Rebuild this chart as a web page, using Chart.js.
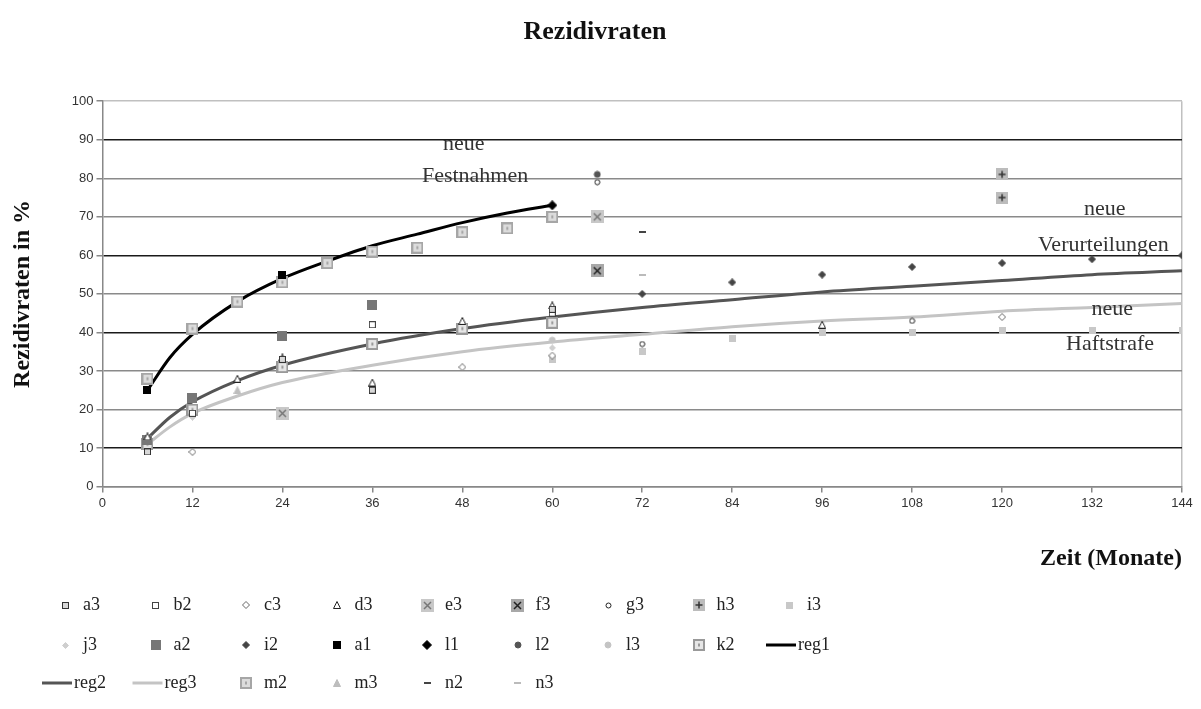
<!DOCTYPE html>
<html>
<head>
<meta charset="utf-8">
<title>Rezidivraten</title>
<script src="https://cdn.jsdelivr.net/npm/chart.js@4.4.1/dist/chart.umd.min.js"></script>
<style>
  html, body { margin: 0; padding: 0; background: #fff; }
  #wrap { width: 1201px; height: 709px; }
</style>
</head>
<body>
<div id="wrap"><canvas id="rezidivChart" width="1201" height="709"></canvas></div>
<script>
// Stichproben: [Monate, Rezidivrate in %]
var a3 = [[6, 9], [24, 33], [36, 25], [60, 46]];
var b2 = [[12, 19], [36, 42], [60, 45]];
var c3 = [[12, 9], [48, 31], [60, 34], [120, 44]];
var d3 = [[6, 13], [18, 28], [24, 33.5], [36, 27], [48, 43], [60, 47], [96, 42]];
var e3 = [[24, 19], [66, 70]];
var f3 = [[66, 56]];
var g3 = [[66, 79], [72, 37], [108, 43]];
var h3 = [[120, 81], [120, 75]];
var i3 = [[60, 33], [72, 35], [84, 38.5], [96, 40], [108, 40], [120, 40.5], [132, 40.5], [144, 40.5]];
var j3 = [[12, 18], [60, 36]];
var a2 = [[6, 12], [12, 23], [24, 39], [36, 47]];
var i2 = [[72, 50], [84, 53], [96, 55], [108, 57], [120, 58], [132, 59], [144, 60]];
var a1 = [[6, 25], [24, 55]];
var l1 = [[60, 73]];
var l2 = [[66, 81]];
var l3 = [[60, 38]];
var k2 = [[6, 11], [12, 20], [24, 31], [36, 37], [48, 41], [60, 42.5]];
var m2 = [[6, 28], [12, 41], [18, 48], [24, 53], [30, 58], [36, 61], [42, 62], [48, 66], [54, 67], [60, 70]];
var m3 = [[18, 25]];
var n2 = [[72, 66]];
var n3 = [[72, 55]];

// Regressionskurven
var reg1Months = [6, 9, 12, 18, 24, 30, 36, 42, 48, 54, 60];
var reg1Values = [25, 33.5, 39.5, 48, 54, 58.5, 62.5, 65.5, 68.5, 71, 73];
var reg2Months = [6, 9, 12, 18, 24, 36, 48, 60, 72, 84, 96, 108, 120, 132, 144];
var reg2Values = [12.5, 18, 22, 27.5, 31.5, 37, 41, 44, 46.5, 48.5, 50.5, 52, 53.5, 55, 56];
var reg3Months = [6, 9, 12, 18, 24, 36, 48, 60, 72, 84, 96, 108, 120, 132, 144];
var reg3Values = [11, 15.5, 19, 23.5, 27, 31.5, 35, 37.5, 39.5, 41.5, 43, 44, 45.5, 46.5, 47.5];

var xTicks = [0, 12, 24, 36, 48, 60, 72, 84, 96, 108, 120, 132, 144];
var yTicks = [0, 10, 20, 30, 40, 50, 60, 70, 80, 90, 100];
var darkGridValues = [10, 40, 60, 90];

// Beschriftungen im Diagramm
var noteTexts = ['neue', 'Festnahmen', 'neue', 'Verurteilungen', 'neue', 'Haftstrafe'];
var noteMonths = [48.2, 49.7, 133.7, 133.5, 134.7, 134.4];
var noteRates = [88.8, 80.6, 72, 62.7, 46.1, 37];

function pairs(list) {
  return list.map(function (p) { return { x: p[0], y: p[1] }; });
}
function zipXY(xs, ys) {
  return xs.map(function (x, i) { return { x: x, y: ys[i] }; });
}

// kleine Marker als Canvas, damit auch Kreuz-/Plus-Kästchen gehen
function marker(kind, size, fill, stroke) {
  var c = document.createElement('canvas');
  c.width = size;
  c.height = kind === 'dash' ? 2 : size;
  var g = c.getContext('2d');
  var m = size / 2;
  g.fillStyle = fill;
  g.strokeStyle = stroke;
  g.lineWidth = 1;
  if (kind === 'square') {
    g.fillRect(0, 0, size, size);
    g.strokeRect(0.5, 0.5, size - 1, size - 1);
  } else if (kind === 'diamond') {
    g.beginPath();
    g.moveTo(m, 0.5); g.lineTo(size - 0.5, m); g.lineTo(m, size - 0.5); g.lineTo(0.5, m);
    g.closePath(); g.fill(); g.stroke();
  } else if (kind === 'triangle') {
    g.beginPath();
    g.moveTo(m, 0.5); g.lineTo(size - 0.5, size - 0.5); g.lineTo(0.5, size - 0.5);
    g.closePath(); g.fill(); g.stroke();
  } else if (kind === 'circle') {
    g.beginPath();
    g.arc(m, m, m - 1, 0, Math.PI * 2);
    g.fill(); g.stroke();
  } else if (kind === 'cross') {
    g.fillRect(0, 0, size, size);
    g.lineWidth = 1.5;
    g.beginPath();
    g.moveTo(3, 3); g.lineTo(size - 3, size - 3);
    g.moveTo(size - 3, 3); g.lineTo(3, size - 3);
    g.stroke();
  } else if (kind === 'plus') {
    g.fillRect(0, 0, size, size);
    g.lineWidth = 1.5;
    g.beginPath();
    g.moveTo(m, 2.5); g.lineTo(m, size - 2.5);
    g.moveTo(2.5, m); g.lineTo(size - 2.5, m);
    g.stroke();
  } else if (kind === 'inner') {
    g.fillRect(0, 0, size, size);
    g.fillStyle = stroke;
    g.fillRect(2, 2, size - 4, size - 4);
    g.fillStyle = fill;
    g.fillRect(m - 1, m - 1.5, 2, 3);
  } else if (kind === 'dash') {
    g.fillRect(0, 0, size, 2);
  }
  return c;
}

function pointSet(label, list, mk) {
  return {
    label: label,
    data: pairs(list),
    pointStyle: mk,
    pointRadius: 5,
    showLine: false,
    order: 0
  };
}
function regLine(label, xs, ys, color) {
  return {
    label: label,
    data: zipXY(xs, ys),
    showLine: true,
    borderColor: color,
    backgroundColor: color,
    borderWidth: 3,
    pointRadius: 0,
    cubicInterpolationMode: 'monotone',
    fill: false,
    order: 1
  };
}

var datasets = [
  pointSet('a3', a3, marker('square', 7, '#d8d8d8', '#333')),
  pointSet('b2', b2, marker('square', 7, '#fff', '#444')),
  pointSet('c3', c3, marker('diamond', 8, '#fff', '#666')),
  pointSet('d3', d3, marker('triangle', 8, '#fff', '#222')),
  pointSet('e3', e3, marker('cross', 13, '#c8c8c8', '#777')),
  pointSet('f3', f3, marker('cross', 13, '#a8a8a8', '#222')),
  pointSet('g3', g3, marker('circle', 7, '#fff', '#222')),
  pointSet('h3', h3, marker('plus', 12, '#bcbcbc', '#333')),
  pointSet('i3', i3, marker('square', 7, '#c8c8c8', '#c8c8c8')),
  pointSet('j3', j3, marker('diamond', 7, '#cfcfcf', '#cfcfcf')),
  pointSet('a2', a2, marker('square', 10, '#777', '#777')),
  pointSet('i2', i2, marker('diamond', 8, '#444', '#444')),
  pointSet('a1', a1, marker('square', 8, '#000', '#000')),
  pointSet('l1', l1, marker('diamond', 10, '#000', '#000')),
  pointSet('l2', l2, marker('circle', 8, '#555', '#555')),
  pointSet('l3', l3, marker('circle', 8, '#c4c4c4', '#c4c4c4')),
  pointSet('k2', k2, marker('inner', 12, '#999', '#e6e6e6')),
  regLine('reg1', reg1Months, reg1Values, '#000'),
  regLine('reg2', reg2Months, reg2Values, '#555'),
  regLine('reg3', reg3Months, reg3Values, '#c4c4c4'),
  pointSet('m2', m2, marker('inner', 12, '#a6a6a6', '#dcdcdc')),
  pointSet('m3', m3, marker('triangle', 8, '#bdbdbd', '#bdbdbd')),
  pointSet('n2', n2, marker('dash', 7, '#444', '#444')),
  pointSet('n3', n3, marker('dash', 7, '#bbb', '#bbb'))
];

// Texte "neue Festnahmen" usw. an Datenkoordinaten
var notesPlugin = {
  id: 'notes',
  afterDatasetsDraw: function (chart) {
    var ctx = chart.ctx, xs = chart.scales.x, ys = chart.scales.y;
    ctx.save();
    ctx.font = '22px "Liberation Serif"';
    ctx.fillStyle = '#333';
    ctx.textAlign = 'center';
    ctx.textBaseline = 'middle';
    noteTexts.forEach(function (t, i) {
      ctx.fillText(t, xs.getPixelForValue(noteMonths[i]), ys.getPixelForValue(noteRates[i]));
    });
    ctx.restore();
  }
};

// Legende als Raster unter dem Diagramm, 9 Einträge pro Zeile
var gridLegend = {
  id: 'gridLegend',
  afterDraw: function (chart) {
    var ctx = chart.ctx;
    var left0 = 42, colW = 90.5, rowY = [605, 645, 683];
    ctx.save();
    ctx.font = '18px "Liberation Serif"';
    ctx.fillStyle = '#222';
    ctx.textBaseline = 'middle';
    chart.data.datasets.forEach(function (ds, i) {
      var row = Math.floor(i / 9), col = i % 9;
      var left = left0 + col * colW, y = rowY[row];
      if (ds.showLine) {
        ctx.strokeStyle = ds.borderColor;
        ctx.lineWidth = 3;
        ctx.beginPath();
        ctx.moveTo(left, y);
        ctx.lineTo(left + 30, y);
        ctx.stroke();
        ctx.fillText(ds.label, left + 32, y);
      } else {
        var mk = ds.pointStyle;
        ctx.drawImage(mk, Math.round(left + 23 - mk.width / 2), Math.round(y - mk.height / 2));
        ctx.fillText(ds.label, left + 41, y);
      }
    });
    ctx.restore();
  }
};

new Chart(document.getElementById('rezidivChart').getContext('2d'), {
  type: 'scatter',
  data: { datasets: datasets },
  plugins: [notesPlugin, gridLegend],
  options: {
    responsive: false,
    animation: false,
    events: [],
    layout: { padding: { left: 8, right: 19, top: 0, bottom: 136 } },
    scales: {
      x: {
        type: 'linear',
        min: 0,
        max: 144,
        afterBuildTicks: function (scale) {
          scale.ticks = xTicks.map(function (v) { return { value: v }; });
        },
        border: { color: '#888', width: 1.5 },
        grid: {
          drawOnChartArea: true,
          color: function (c) { return c.tick && c.tick.value === 144 ? '#c0c0c0' : 'rgba(0,0,0,0)'; },
          lineWidth: 1.5,
          tickColor: '#888',
          tickLength: 6
        },
        ticks: {
          font: { family: 'Liberation Sans', size: 13 },
          color: '#333',
          padding: 3,
          maxRotation: 0
        },
        title: {
          display: true,
          text: 'Zeit (Monate)',
          align: 'end',
          font: { family: 'Liberation Serif', size: 24, weight: 'bold' },
          color: '#111',
          padding: { top: 30, bottom: 0 }
        }
      },
      y: {
        type: 'linear',
        min: 0,
        max: 100,
        afterBuildTicks: function (scale) {
          scale.ticks = yTicks.map(function (v) { return { value: v }; });
        },
        border: { color: '#888', width: 1.5 },
        grid: {
          color: function (c) {
            var v = c.tick ? c.tick.value : 0;
            if (v === 100) return '#c0c0c0';
            return darkGridValues.indexOf(v) >= 0 ? '#1a1a1a' : '#8a8a8a';
          },
          lineWidth: 1.5,
          tickColor: '#888',
          tickLength: 6
        },
        ticks: {
          font: { family: 'Liberation Sans', size: 13 },
          color: '#333',
          padding: 3
        },
        title: {
          display: true,
          text: 'Rezidivraten in %',
          font: { family: 'Liberation Serif', size: 24, weight: 'bold' },
          color: '#111',
          padding: { top: 0, bottom: 32 }
        }
      }
    },
    plugins: {
      legend: { display: false },
      tooltip: { enabled: false },
      title: {
        display: true,
        text: 'Rezidivraten',
        font: { family: 'Liberation Serif', size: 26, weight: 'bold' },
        color: '#111',
        padding: { top: 17, bottom: 53 }
      }
    }
  }
});
</script>
</body>
</html>
